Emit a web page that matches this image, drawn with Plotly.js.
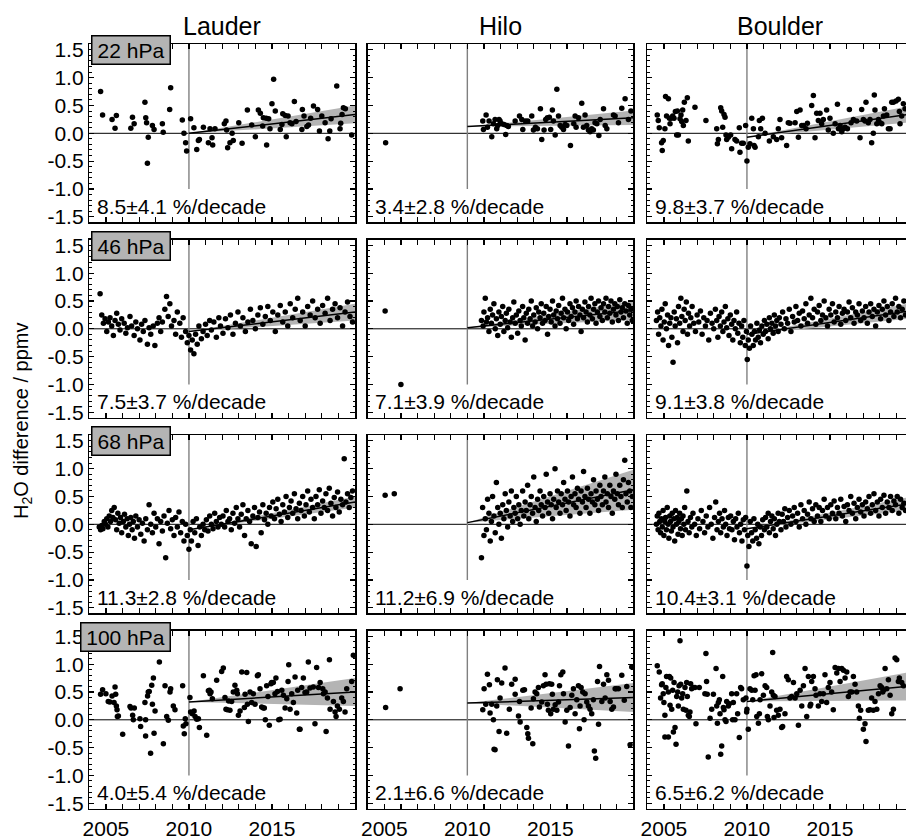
<!DOCTYPE html>
<html><head><meta charset="utf-8">
<script src="https://cdn.plot.ly/plotly-3.0.1.min.js"></script>
<style>html,body{margin:0;padding:0;overflow:hidden;background:#fff}</style>
</head><body><div id="chart"></div>
<script>
const stations = ["Lauder", "Hilo", "Boulder"];
const levels = ["22 hPa", "46 hPa", "68 hPa", "100 hPa"];
const trendLabels = [
  ["8.5±4.1 %/decade", "3.4±2.8 %/decade", "9.8±3.7 %/decade"],
  ["7.5±3.7 %/decade", "7.1±3.9 %/decade", "9.1±3.8 %/decade"],
  ["11.3±2.8 %/decade", "11.2±6.9 %/decade", "10.4±3.1 %/decade"],
  ["4.0±5.4 %/decade", "2.1±6.6 %/decade", "6.5±6.2 %/decade"]
];
const trendStartYear = 2010, trendEndYear = 2020;
const trendStartY = [[0.0, 0.12, -0.07], [-0.05, 0.02, -0.1], [-0.1, 0.03, -0.08], [0.32, 0.30, 0.33]];
const trendEndY = [[0.34, 0.28, 0.35], [0.30, 0.33, 0.33], [0.40, 0.62, 0.38], [0.50, 0.40, 0.61]];
const trendBandHalf = [[0.16, 0.13, 0.15], [0.15, 0.17, 0.14], [0.10, 0.36, 0.12], [0.25, 0.26, 0.26]];
const refLineBottom = -1.0;
const xRange = [2004, 2020], yRange = [-1.6, 1.6];
const xTickVals = [2005, 2010, 2015], xTickText = ["2005", "2010", "2015"];
const yTickVals = [-1.5, -1, -0.5, 0, 0.5, 1, 1.5];
const yTickText = ["-1.5", "-1.0", "-0.5", "0.0", "0.5", "1.0", "1.5"];

const lauder22 = [[2004.68,0.75],[2004.8,0.33],[2005.37,0.25],[2005.55,0.09],[2005.63,0.32],[2006.5,0.09],[2006.6,0.29],[2006.7,0.17],[2007.35,0.56],[2007.4,0.28],[2007.45,0.19],[2007.55,-0.07],[2007.5,-0.54],[2007.8,0.14],[2007.9,0.07],[2008.4,0.17],[2008.45,0.02],[2008.84,0.43],[2008.9,0.82],[2009.6,0.24],[2009.7,0.0],[2009.8,-0.17],[2009.86,-0.32],[2010.1,0.26],[2010.3,0.1],[2010.47,-0.29],[2010.57,-0.13],[2010.63,-0.11],[2010.87,0.11],[2011.17,-0.17],[2011.27,0.08],[2011.39,-0.08],[2011.43,-0.21],[2011.57,0.08],[2012.13,0.17],[2012.23,0.22],[2012.27,0.06],[2012.33,-0.26],[2012.47,-0.17],[2012.6,0.0],[2012.67,-0.13],[2013.0,0.19],[2013.2,-0.18],[2013.52,0.42],[2013.78,0.15],[2014.0,-0.06],[2014.18,0.42],[2014.3,0.36],[2014.44,0.13],[2014.48,0.28],[2014.65,0.27],[2014.68,-0.21],[2014.8,0.26],[2014.88,0.08],[2015.0,0.53],[2015.1,0.97],[2015.2,0.4],[2015.5,0.07],[2015.6,0.16],[2015.65,0.35],[2015.8,0.32],[2015.86,-0.06],[2015.97,0.31],[2016.09,0.19],[2016.2,0.17],[2016.35,0.57],[2016.45,0.21],[2016.8,0.07],[2016.83,0.43],[2016.93,0.31],[2017.1,0.12],[2017.2,0.15],[2017.33,0.27],[2017.5,0.49],[2017.75,0.43],[2017.86,0.04],[2018.0,0.31],[2018.2,0.19],[2018.38,-0.1],[2018.48,0.04],[2018.56,0.26],[2018.9,0.85],[2019.1,0.08],[2019.14,0.18],[2019.22,0.34],[2019.3,0.46],[2019.42,0.44],[2019.8,-0.03]];
const hilo22 = [[2005.08,-0.17],[2010.93,0.22],[2010.97,0.07],[2011.13,0.33],[2011.21,0.11],[2011.31,0.22],[2011.47,-0.06],[2011.57,0.17],[2011.67,0.25],[2011.77,0.08],[2011.83,0.14],[2011.91,0.25],[2011.97,0.22],[2012.07,0.17],[2012.21,0.16],[2012.31,-0.02],[2012.37,0.14],[2012.47,0.12],[2012.88,0.22],[2013.14,0.31],[2013.28,0.25],[2013.34,0.07],[2013.5,0.22],[2013.64,0.22],[2013.88,0.31],[2013.98,0.06],[2014.1,0.11],[2014.22,0.08],[2014.4,0.44],[2014.48,-0.11],[2014.62,0.06],[2014.72,0.25],[2014.82,0.28],[2014.94,0.29],[2015.02,0.07],[2015.12,0.42],[2015.18,0.22],[2015.29,-0.03],[2015.39,0.79],[2015.49,0.31],[2015.59,0.14],[2015.69,0.11],[2015.79,0.07],[2015.89,0.16],[2015.99,0.14],[2016.21,-0.22],[2016.41,0.17],[2016.49,0.31],[2016.55,0.11],[2016.69,0.28],[2016.89,0.54],[2016.99,0.11],[2017.09,0.33],[2017.19,0.14],[2017.29,0.06],[2017.39,0.03],[2017.49,0.08],[2017.59,0.06],[2017.69,0.19],[2017.8,0.17],[2017.92,-0.04],[2018.0,0.25],[2018.2,0.44],[2018.3,0.14],[2018.4,0.08],[2018.8,0.33],[2018.9,0.31],[2019.1,0.19],[2019.3,0.45],[2019.5,0.62],[2019.7,0.25],[2019.85,0.4]];
const boulder22 = [[2004.6,0.33],[2004.66,0.23],[2004.72,0.1],[2004.86,-0.17],[2004.9,-0.31],[2004.96,-0.13],[2005.06,0.08],[2005.1,0.66],[2005.16,0.31],[2005.27,0.62],[2005.33,0.27],[2005.37,0.17],[2005.43,0.27],[2005.53,0.31],[2005.61,0.27],[2005.69,0.39],[2005.77,-0.03],[2005.81,0.4],[2005.87,-0.03],[2005.97,0.26],[2006.03,0.33],[2006.07,0.21],[2006.13,0.42],[2006.17,0.14],[2006.23,0.56],[2006.33,0.23],[2006.41,0.64],[2006.47,-0.14],[2006.87,0.47],[2007.53,0.23],[2008.18,0.08],[2008.22,-0.19],[2008.28,-0.11],[2008.42,0.46],[2008.48,0.4],[2008.54,0.11],[2008.62,0.34],[2008.68,0.29],[2008.74,-0.03],[2008.78,-0.11],[2008.88,-0.07],[2009.02,-0.03],[2009.08,-0.28],[2009.28,-0.11],[2009.38,-0.14],[2009.54,0.1],[2009.58,-0.34],[2009.68,-0.18],[2009.78,-0.18],[2009.92,0.14],[2010.0,-0.5],[2010.08,-0.25],[2010.18,-0.19],[2010.29,0.27],[2010.39,0.08],[2010.43,-0.22],[2010.49,-0.25],[2010.69,-0.06],[2010.75,0.23],[2010.83,0.08],[2010.93,0.27],[2011.09,0.0],[2011.35,-0.14],[2011.59,-0.06],[2011.79,-0.11],[2011.89,0.08],[2011.99,0.25],[2012.09,-0.08],[2012.39,-0.22],[2012.49,0.19],[2012.59,0.18],[2012.9,0.19],[2013.0,0.39],[2013.1,-0.07],[2013.2,0.42],[2013.3,0.14],[2013.4,0.14],[2013.56,0.08],[2013.64,0.18],[2013.9,0.5],[2014.0,0.68],[2014.1,-0.08],[2014.2,0.36],[2014.3,0.23],[2014.4,0.36],[2014.5,0.17],[2014.6,0.25],[2014.8,0.42],[2014.9,0.06],[2015.0,0.27],[2015.2,0.0],[2015.31,0.17],[2015.45,0.52],[2015.51,0.08],[2015.61,0.14],[2015.71,0.03],[2015.81,0.08],[2015.91,0.11],[2016.05,0.08],[2016.17,0.43],[2016.27,0.19],[2016.41,0.25],[2016.61,0.22],[2016.81,-0.08],[2016.91,0.43],[2017.01,0.25],[2017.11,0.22],[2017.17,0.56],[2017.31,0.19],[2017.41,0.25],[2017.51,-0.17],[2017.61,0.0],[2017.67,0.69],[2017.71,0.42],[2017.82,0.17],[2017.92,0.25],[2018.02,0.19],[2018.12,0.17],[2018.22,0.31],[2018.28,0.44],[2018.42,0.33],[2018.52,0.08],[2018.62,0.08],[2018.72,0.56],[2018.82,0.56],[2018.98,0.58],[2019.12,0.61],[2019.18,0.39],[2019.22,0.17],[2019.32,0.31],[2019.42,0.53],[2019.52,0.44]];

const lauder46 = [[2004.65,0.63],[2004.75,0.25],[2004.85,0.1],[2004.95,0.18],[2005.05,-0.05],[2005.15,0.12],[2005.25,0.2],[2005.35,0.05],[2005.45,-0.12],[2005.55,0.15],[2005.65,0.28],[2005.75,0.08],[2005.85,-0.02],[2005.95,0.18],[2006.1,0.1],[2006.2,-0.08],[2006.3,0.02],[2006.45,0.22],[2006.55,0.05],[2006.7,-0.12],[2006.8,0.12],[2006.9,0.0],[2007.05,-0.2],[2007.15,0.08],[2007.25,-0.05],[2007.35,0.15],[2007.5,-0.28],[2007.6,0.02],[2007.7,-0.1],[2007.85,0.05],[2007.95,-0.3],[2008.1,0.1],[2008.2,0.2],[2008.3,-0.05],[2008.4,0.12],[2008.55,0.35],[2008.65,0.58],[2008.75,0.22],[2008.85,0.45],[2008.95,0.05],[2009.1,0.15],[2009.2,-0.1],[2009.3,0.3],[2009.45,0.1],[2009.55,-0.15],[2009.65,0.2],[2009.8,-0.05],[2009.9,-0.25],[2010.0,-0.12],[2010.1,-0.38],[2010.2,-0.2],[2010.3,-0.45],[2010.4,-0.1],[2010.5,-0.28],[2010.6,0.05],[2010.75,-0.18],[2010.85,-0.05],[2011.0,0.08],[2011.1,-0.12],[2011.25,0.15],[2011.35,-0.02],[2011.5,0.12],[2011.65,-0.15],[2011.8,0.2],[2011.9,0.05],[2012.05,-0.08],[2012.2,0.18],[2012.35,0.02],[2012.5,0.25],[2012.65,-0.1],[2012.8,0.1],[2012.95,0.3],[2013.1,0.05],[2013.25,0.2],[2013.4,-0.05],[2013.55,0.12],[2013.7,0.35],[2013.85,0.15],[2014.0,0.0],[2014.15,0.25],[2014.3,0.38],[2014.45,0.08],[2014.6,0.22],[2014.75,0.4],[2014.9,0.15],[2015.05,0.3],[2015.2,-0.05],[2015.35,0.25],[2015.5,0.42],[2015.65,0.12],[2015.8,0.3],[2015.95,0.05],[2016.1,0.45],[2016.25,0.2],[2016.4,0.35],[2016.55,0.55],[2016.7,0.15],[2016.85,0.3],[2017.0,0.05],[2017.15,0.4],[2017.3,0.25],[2017.45,0.5],[2017.6,0.2],[2017.75,0.35],[2017.9,0.1],[2018.05,0.42],[2018.2,0.28],[2018.35,0.55],[2018.5,0.15],[2018.65,0.35],[2018.8,0.45],[2018.95,0.2],[2019.1,0.38],[2019.25,0.05],[2019.4,0.3],[2019.55,0.48],[2019.7,0.22],[2019.85,0.12]];
const hilo46 = [[2005.05,0.32],[2006.0,-1.0],[2010.85,0.15],[2010.95,0.05],[2011.0,0.3],[2011.08,0.55],[2011.15,0.12],[2011.22,0.2],[2011.3,-0.05],[2011.38,0.35],[2011.45,0.1],[2011.52,0.25],[2011.6,0.45],[2011.68,0.0],[2011.75,0.18],[2011.83,-0.12],[2011.9,0.3],[2011.98,0.08],[2012.05,0.22],[2012.13,0.4],[2012.2,-0.05],[2012.28,0.15],[2012.35,0.28],[2012.43,0.02],[2012.5,0.35],[2012.58,0.12],[2012.65,-0.15],[2012.73,0.2],[2012.8,0.48],[2012.88,0.1],[2012.95,0.25],[2013.03,-0.08],[2013.1,0.32],[2013.18,0.15],[2013.25,0.05],[2013.33,0.4],[2013.4,0.2],[2013.48,-0.2],[2013.55,0.28],[2013.63,0.1],[2013.7,0.35],[2013.78,0.18],[2013.85,0.5],[2013.93,0.05],[2014.0,0.25],[2014.08,0.12],[2014.15,0.38],[2014.23,0.0],[2014.3,0.3],[2014.38,0.2],[2014.45,0.45],[2014.53,0.1],[2014.6,0.28],[2014.68,0.15],[2014.75,0.4],[2014.83,-0.1],[2014.9,0.22],[2014.98,0.35],[2015.05,0.12],[2015.13,0.5],[2015.2,0.25],[2015.28,0.05],[2015.35,0.32],[2015.43,0.18],[2015.5,0.42],[2015.58,0.1],[2015.65,0.28],[2015.73,0.55],[2015.8,0.2],[2015.88,0.35],[2015.95,0.0],[2016.03,0.3],[2016.1,0.15],[2016.18,0.45],[2016.25,0.22],[2016.33,0.38],[2016.4,0.08],[2016.48,0.3],[2016.55,0.5],[2016.63,0.18],[2016.7,0.4],[2016.78,0.25],[2016.85,-0.05],[2016.93,0.35],[2017.0,0.2],[2017.08,0.48],[2017.15,0.3],[2017.23,0.12],[2017.3,0.4],[2017.38,0.25],[2017.45,0.55],[2017.53,0.18],[2017.6,0.35],[2017.68,0.45],[2017.75,0.1],[2017.83,0.3],[2017.9,0.5],[2017.98,0.22],[2018.05,0.38],[2018.13,0.15],[2018.2,0.45],[2018.28,0.3],[2018.35,0.55],[2018.43,0.2],[2018.5,0.4],[2018.58,0.28],[2018.65,0.5],[2018.73,0.12],[2018.8,0.35],[2018.88,0.45],[2018.95,0.25],[2019.03,0.4],[2019.1,0.15],[2019.18,0.52],[2019.25,0.3],[2019.33,0.38],[2019.4,0.2],[2019.48,0.45],[2019.55,0.32],[2019.63,0.1],[2019.7,0.42],[2019.78,0.25],[2019.85,0.35],[2019.93,0.15]];
const boulder46 = [[2004.55,0.15],[2004.62,0.3],[2004.68,-0.1],[2004.75,0.2],[2004.82,0.05],[2004.88,0.35],[2004.95,-0.2],[2005.02,0.12],[2005.08,0.45],[2005.15,0.0],[2005.22,0.25],[2005.28,-0.3],[2005.35,0.1],[2005.42,0.2],[2005.48,-0.15],[2005.55,-0.6],[2005.62,0.3],[2005.68,0.05],[2005.75,0.18],[2005.82,-0.25],[2005.88,0.4],[2005.95,0.1],[2006.02,0.55],[2006.08,0.22],[2006.15,-0.05],[2006.22,0.35],[2006.28,0.15],[2006.35,0.48],[2006.42,-0.1],[2006.48,0.28],[2006.55,0.05],[2006.62,0.2],[2006.7,0.4],[2006.8,0.1],[2006.9,-0.05],[2007.0,0.25],[2007.1,0.12],[2007.2,0.32],[2007.3,-0.1],[2007.4,0.2],[2007.5,0.05],[2007.6,0.15],[2007.7,-0.2],[2007.8,0.28],[2007.9,0.1],[2008.0,0.0],[2008.1,0.35],[2008.18,0.15],[2008.25,-0.15],[2008.32,0.22],[2008.4,0.05],[2008.48,0.3],[2008.55,-0.05],[2008.62,0.12],[2008.7,0.4],[2008.78,0.02],[2008.85,0.18],[2008.92,-0.12],[2009.0,0.25],[2009.08,0.08],[2009.15,-0.2],[2009.22,0.15],[2009.3,0.0],[2009.38,0.3],[2009.45,-0.08],[2009.52,0.1],[2009.6,-0.25],[2009.68,0.05],[2009.75,-0.15],[2009.82,0.15],[2009.9,-0.3],[2009.97,-0.05],[2010.02,-0.55],[2010.08,-0.2],[2010.15,-0.35],[2010.22,0.05],[2010.3,-0.1],[2010.38,-0.3],[2010.45,-0.05],[2010.52,-0.2],[2010.6,0.1],[2010.68,-0.15],[2010.75,-0.02],[2010.82,-0.25],[2010.9,0.05],[2010.98,-0.1],[2011.05,0.15],[2011.12,-0.05],[2011.2,0.08],[2011.28,-0.18],[2011.35,0.2],[2011.42,0.0],[2011.5,0.1],[2011.58,-0.08],[2011.65,0.25],[2011.72,0.05],[2011.8,0.15],[2011.88,-0.05],[2011.95,0.2],[2012.05,0.08],[2012.15,0.3],[2012.25,0.0],[2012.35,0.18],[2012.45,0.1],[2012.55,0.35],[2012.65,-0.05],[2012.75,0.22],[2012.85,0.12],[2012.95,0.4],[2013.05,0.15],[2013.15,0.28],[2013.25,0.05],[2013.35,0.32],[2013.45,0.18],[2013.55,0.45],[2013.65,0.1],[2013.75,0.25],[2013.85,0.55],[2013.95,0.2],[2014.05,0.35],[2014.15,0.08],[2014.25,0.3],[2014.35,0.42],[2014.45,0.15],[2014.55,0.25],[2014.65,0.5],[2014.75,0.2],[2014.85,0.05],[2014.95,0.35],[2015.05,0.25],[2015.15,0.45],[2015.25,0.12],[2015.35,0.3],[2015.45,0.2],[2015.55,0.4],[2015.65,0.08],[2015.75,0.28],[2015.85,0.35],[2015.95,0.15],[2016.05,0.3],[2016.15,0.48],[2016.25,0.2],[2016.35,0.38],[2016.45,0.1],[2016.55,0.3],[2016.65,0.25],[2016.75,0.45],[2016.85,0.15],[2016.95,0.32],[2017.05,0.2],[2017.15,0.4],[2017.25,0.1],[2017.35,0.3],[2017.45,0.45],[2017.55,0.22],[2017.65,0.35],[2017.75,0.05],[2017.85,0.3],[2017.95,0.42],[2018.05,0.18],[2018.15,0.35],[2018.25,0.5],[2018.35,0.25],[2018.45,0.4],[2018.55,0.15],[2018.65,0.3],[2018.75,0.45],[2018.85,0.22],[2018.95,0.55],[2019.05,0.3],[2019.15,0.4],[2019.25,0.2],[2019.35,0.35],[2019.45,0.5],[2019.55,0.25]];

const lauder68 = [[2004.6,-0.05],[2004.68,-0.1],[2004.75,-0.02],[2004.82,-0.08],[2004.9,0.05],[2004.98,0.0],[2005.05,0.1],[2005.12,-0.05],[2005.2,0.15],[2005.28,0.05],[2005.35,0.25],[2005.42,0.12],[2005.5,0.3],[2005.58,0.08],[2005.65,-0.1],[2005.72,0.2],[2005.8,0.02],[2005.88,0.12],[2005.95,-0.15],[2006.05,0.05],[2006.12,0.18],[2006.2,-0.05],[2006.28,0.1],[2006.35,-0.2],[2006.42,0.0],[2006.5,0.12],[2006.58,-0.1],[2006.65,0.05],[2006.72,-0.25],[2006.8,0.15],[2006.9,-0.05],[2007.0,0.08],[2007.1,-0.18],[2007.2,0.02],[2007.3,-0.3],[2007.4,0.1],[2007.5,-0.1],[2007.6,0.35],[2007.7,0.0],[2007.8,-0.15],[2007.9,0.2],[2008.0,-0.05],[2008.1,0.1],[2008.2,-0.35],[2008.3,0.05],[2008.4,-0.12],[2008.5,0.15],[2008.6,-0.6],[2008.7,0.02],[2008.8,0.25],[2008.9,-0.08],[2009.0,0.08],[2009.1,-0.2],[2009.2,0.12],[2009.3,-0.05],[2009.4,0.22],[2009.5,-0.15],[2009.6,0.05],[2009.7,-0.3],[2009.8,0.0],[2009.9,-0.2],[2010.0,-0.45],[2010.08,-0.1],[2010.15,-0.3],[2010.25,0.05],[2010.35,-0.15],[2010.45,0.1],[2010.55,-0.38],[2010.65,-0.05],[2010.75,-0.2],[2010.85,0.0],[2010.95,-0.1],[2011.05,0.08],[2011.15,-0.12],[2011.25,0.15],[2011.35,0.0],[2011.45,-0.08],[2011.55,0.2],[2011.65,0.05],[2011.75,-0.05],[2011.85,0.12],[2011.95,0.0],[2012.05,0.15],[2012.15,-0.05],[2012.25,0.25],[2012.35,0.05],[2012.45,0.1],[2012.55,-0.1],[2012.65,0.2],[2012.75,0.02],[2012.85,0.3],[2012.95,0.1],[2013.05,-0.05],[2013.15,0.18],[2013.25,0.35],[2013.35,-0.2],[2013.45,0.1],[2013.55,0.25],[2013.65,0.05],[2013.75,-0.35],[2013.85,0.15],[2013.95,0.3],[2014.05,-0.4],[2014.15,0.12],[2014.25,0.22],[2014.35,-0.15],[2014.45,0.35],[2014.55,0.08],[2014.65,0.2],[2014.75,0.0],[2014.85,0.3],[2014.95,0.15],[2015.05,0.4],[2015.15,0.1],[2015.25,0.28],[2015.35,0.45],[2015.45,0.18],[2015.55,0.05],[2015.65,0.35],[2015.75,0.22],[2015.85,0.5],[2015.95,0.12],[2016.05,0.3],[2016.15,0.42],[2016.25,0.2],[2016.35,0.55],[2016.45,0.28],[2016.55,0.1],[2016.65,0.38],[2016.75,0.25],[2016.85,0.5],[2016.95,0.15],[2017.05,0.35],[2017.15,0.6],[2017.25,0.22],[2017.35,0.45],[2017.45,0.3],[2017.55,0.1],[2017.65,0.5],[2017.75,0.35],[2017.85,0.62],[2017.95,0.2],[2018.05,0.42],[2018.15,0.3],[2018.25,0.55],[2018.35,0.25],[2018.45,0.65],[2018.55,0.38],[2018.65,0.15],[2018.75,0.48],[2018.85,0.3],[2018.95,0.58],[2019.05,0.22],[2019.15,0.45],[2019.25,0.35],[2019.35,1.18],[2019.45,0.4],[2019.55,0.55],[2019.65,0.3],[2019.75,0.48],[2019.85,0.6]];
const hilo68 = [[2005.05,0.52],[2005.6,0.55],[2010.85,-0.6],[2010.92,0.3],[2011.0,-0.2],[2011.08,0.1],[2011.15,-0.1],[2011.22,0.45],[2011.3,0.2],[2011.38,-0.3],[2011.45,0.05],[2011.52,0.5],[2011.6,0.15],[2011.68,-0.15],[2011.75,0.75],[2011.83,0.3],[2011.9,0.0],[2011.98,0.2],[2012.05,-0.25],[2012.13,0.35],[2012.2,0.1],[2012.28,0.55],[2012.35,0.25],[2012.43,-0.05],[2012.5,0.4],[2012.58,0.15],[2012.65,0.6],[2012.73,0.05],[2012.8,0.3],[2012.88,0.2],[2012.95,0.5],[2013.03,0.1],[2013.1,0.35],[2013.18,0.0],[2013.25,0.25],[2013.33,0.6],[2013.4,0.15],[2013.48,0.4],[2013.55,0.25],[2013.63,0.7],[2013.7,0.1],[2013.78,0.35],[2013.85,0.5],[2013.93,0.2],[2014.0,0.85],[2014.08,0.3],[2014.15,0.05],[2014.23,0.45],[2014.3,0.25],[2014.38,0.6],[2014.45,0.35],[2014.53,0.15],[2014.6,0.5],[2014.68,0.3],[2014.75,0.9],[2014.83,0.4],[2014.9,0.2],[2014.98,0.55],[2015.05,0.35],[2015.13,0.1],[2015.2,0.45],[2015.28,1.0],[2015.35,0.3],[2015.43,0.6],[2015.5,0.4],[2015.58,0.2],[2015.65,0.55],[2015.73,0.35],[2015.8,0.75],[2015.88,0.45],[2015.95,0.25],[2016.03,0.6],[2016.1,0.4],[2016.18,0.15],[2016.25,0.5],[2016.33,0.85],[2016.4,0.35],[2016.48,0.55],[2016.55,0.3],[2016.63,0.65],[2016.7,0.45],[2016.78,0.2],[2016.85,0.6],[2016.93,0.4],[2017.0,0.95],[2017.08,0.5],[2017.15,0.3],[2017.23,0.65],[2017.3,0.45],[2017.38,0.2],[2017.45,0.55],[2017.53,0.4],[2017.6,0.8],[2017.68,0.35],[2017.75,0.6],[2017.83,0.45],[2017.9,0.25],[2017.98,0.7],[2018.05,0.5],[2018.13,0.35],[2018.2,0.6],[2018.28,0.85],[2018.35,0.4],[2018.43,0.55],[2018.5,0.3],[2018.58,0.7],[2018.65,0.5],[2018.73,0.2],[2018.8,0.6],[2018.88,0.45],[2018.95,0.9],[2019.03,0.55],[2019.1,0.35],[2019.18,0.7],[2019.25,0.5],[2019.33,0.3],[2019.4,0.8],[2019.48,1.15],[2019.55,0.55],[2019.63,0.4],[2019.7,0.75],[2019.78,0.6],[2019.85,0.3],[2019.93,0.5]];
const boulder68 = [[2004.55,0.0],[2004.6,0.15],[2004.65,-0.1],[2004.7,0.2],[2004.75,0.05],[2004.8,-0.15],[2004.85,0.1],[2004.9,-0.05],[2004.95,0.25],[2005.0,-0.2],[2005.05,0.05],[2005.1,0.12],[2005.15,-0.1],[2005.2,0.3],[2005.25,0.0],[2005.3,-0.25],[2005.35,0.15],[2005.4,0.05],[2005.45,-0.12],[2005.5,0.2],[2005.55,-0.05],[2005.6,0.1],[2005.65,-0.3],[2005.7,0.25],[2005.75,0.0],[2005.8,0.12],[2005.85,-0.18],[2005.9,0.05],[2005.95,0.2],[2006.0,-0.08],[2006.05,0.1],[2006.1,-0.2],[2006.15,0.15],[2006.2,0.0],[2006.25,0.3],[2006.3,-0.1],[2006.38,0.6],[2006.45,0.05],[2006.52,-0.15],[2006.6,0.12],[2006.68,-0.05],[2006.75,0.2],[2006.85,0.0],[2006.95,-0.2],[2007.05,0.1],[2007.15,-0.08],[2007.25,0.25],[2007.35,0.05],[2007.45,-0.15],[2007.55,0.15],[2007.65,-0.05],[2007.75,0.3],[2007.85,0.0],[2007.95,-0.25],[2008.05,0.12],[2008.12,0.4],[2008.2,-0.1],[2008.28,0.05],[2008.35,0.2],[2008.42,-0.15],[2008.5,0.1],[2008.58,-0.05],[2008.65,0.25],[2008.72,0.0],[2008.8,-0.2],[2008.88,0.12],[2008.95,-0.08],[2009.02,0.15],[2009.1,-0.1],[2009.18,0.05],[2009.25,-0.28],[2009.32,0.1],[2009.4,-0.05],[2009.48,0.2],[2009.55,-0.15],[2009.62,0.0],[2009.7,-0.3],[2009.78,0.08],[2009.85,-0.1],[2009.92,0.12],[2010.0,-0.75],[2010.05,-0.2],[2010.12,-0.4],[2010.2,0.05],[2010.28,-0.15],[2010.35,-0.3],[2010.42,0.1],[2010.5,-0.1],[2010.58,-0.25],[2010.65,0.0],[2010.72,-0.35],[2010.8,-0.05],[2010.88,-0.2],[2010.95,0.08],[2011.05,-0.1],[2011.12,0.12],[2011.2,-0.05],[2011.28,0.2],[2011.35,-0.15],[2011.42,0.05],[2011.5,0.15],[2011.58,-0.08],[2011.65,0.1],[2011.72,-0.2],[2011.8,0.0],[2011.88,0.2],[2011.95,0.05],[2012.05,-0.1],[2012.12,0.18],[2012.2,0.05],[2012.28,0.28],[2012.35,-0.05],[2012.45,0.12],[2012.55,0.25],[2012.65,0.0],[2012.75,0.15],[2012.85,0.3],[2012.95,0.05],[2013.05,0.2],[2013.15,-0.05],[2013.25,0.35],[2013.35,0.1],[2013.45,0.25],[2013.55,0.0],[2013.65,0.18],[2013.75,0.4],[2013.85,0.1],[2013.95,0.28],[2014.05,0.05],[2014.15,0.35],[2014.25,0.15],[2014.35,0.3],[2014.45,0.05],[2014.55,0.25],[2014.65,0.45],[2014.75,0.15],[2014.85,0.3],[2014.95,0.1],[2015.05,0.35],[2015.15,0.2],[2015.25,0.42],[2015.35,0.1],[2015.45,0.3],[2015.55,0.2],[2015.65,0.45],[2015.75,0.15],[2015.85,0.32],[2015.95,0.05],[2016.05,0.35],[2016.15,0.25],[2016.25,0.5],[2016.35,0.2],[2016.45,0.38],[2016.55,0.1],[2016.65,0.3],[2016.75,0.45],[2016.85,0.22],[2016.95,0.35],[2017.05,0.15],[2017.15,0.4],[2017.25,0.28],[2017.35,0.5],[2017.45,0.2],[2017.55,0.35],[2017.65,0.55],[2017.75,0.25],[2017.85,0.4],[2017.95,0.15],[2018.05,0.45],[2018.15,0.3],[2018.25,0.52],[2018.35,0.2],[2018.45,0.4],[2018.55,0.3],[2018.65,0.5],[2018.75,0.25],[2018.85,0.42],[2018.95,0.35],[2019.05,0.5],[2019.15,0.2],[2019.25,0.45],[2019.35,0.3],[2019.45,0.38],[2019.55,0.25]];

const lauder100 = [[2004.68,0.46],[2004.8,0.54],[2005.0,0.47],[2005.14,0.33],[2005.24,0.32],[2005.37,0.43],[2005.49,0.31],[2005.55,0.59],[2005.59,0.46],[2005.63,0.25],[2005.67,0.18],[2005.69,0.06],[2005.75,0.07],[2006.01,-0.26],[2006.45,0.24],[2006.51,0.21],[2006.61,0.08],[2006.65,0.0],[2006.71,0.21],[2007.05,0.02],[2007.09,-0.12],[2007.35,0.31],[2007.39,0.0],[2007.39,-0.29],[2007.51,0.43],[2007.55,0.5],[2007.61,0.51],[2007.69,-0.6],[2007.76,0.62],[2007.8,0.28],[2007.86,0.75],[2007.9,-0.24],[2007.96,0.16],[2008.22,1.04],[2008.46,-0.43],[2008.56,0.61],[2008.66,0.06],[2008.76,-0.01],[2008.86,0.5],[2008.9,0.56],[2009.06,0.25],[2009.16,0.18],[2009.62,0.61],[2009.66,-0.11],[2009.72,-0.25],[2009.78,0.02],[2009.82,-0.07],[2010.06,0.4],[2010.1,0.14],[2010.2,0.11],[2010.31,0.16],[2010.37,0.06],[2010.47,0.01],[2010.57,0.02],[2010.63,-0.14],[2010.87,0.79],[2011.07,-0.28],[2011.17,0.52],[2011.23,0.53],[2011.27,0.47],[2011.33,0.5],[2011.41,0.38],[2011.67,0.71],[2011.97,0.87],[2012.07,0.93],[2012.17,0.4],[2012.23,0.19],[2012.31,0.18],[2012.39,0.34],[2012.47,0.17],[2012.57,0.33],[2012.67,0.5],[2012.77,0.62],[2012.88,0.53],[2012.92,0.47],[2012.98,0.08],[2013.08,0.16],[2013.18,0.86],[2013.34,0.22],[2013.38,0.46],[2013.48,0.85],[2013.52,0.28],[2013.58,-0.03],[2013.68,0.5],[2013.78,0.31],[2013.88,0.47],[2013.98,0.28],[2014.12,0.79],[2014.18,0.81],[2014.28,0.56],[2014.38,0.23],[2014.48,0.21],[2014.54,0.21],[2014.6,0.0],[2014.68,0.61],[2014.76,0.42],[2014.84,-0.1],[2014.94,0.65],[2014.98,0.67],[2015.08,0.67],[2015.18,0.47],[2015.24,0.75],[2015.33,0.51],[2015.41,0.0],[2015.49,0.01],[2015.59,0.53],[2015.69,0.44],[2015.79,0.21],[2015.89,0.38],[2015.97,0.69],[2016.01,0.99],[2016.09,0.19],[2016.19,0.47],[2016.29,0.31],[2016.39,0.77],[2016.49,0.12],[2016.55,0.53],[2016.65,-0.17],[2016.69,-0.17],[2016.79,0.58],[2016.89,0.75],[2016.99,0.49],[2017.09,0.5],[2017.19,1.04],[2017.29,0.57],[2017.49,0.59],[2017.59,-0.07],[2017.69,0.94],[2017.8,0.58],[2017.9,0.67],[2018.06,0.56],[2018.1,0.47],[2018.2,0.5],[2018.26,-0.21],[2018.34,0.39],[2018.46,1.08],[2018.5,0.19],[2018.7,0.33],[2018.8,0.14],[2018.86,0.06],[2018.94,0.25],[2019.06,0.19],[2019.2,0.39],[2019.3,0.33],[2019.4,0.14],[2019.5,0.56],[2019.8,0.69],[2019.9,1.16]];
const hilo100 = [[2005.08,0.22],[2005.95,0.56],[2010.93,0.18],[2011.01,0.56],[2011.11,0.28],[2011.21,0.82],[2011.33,0.63],[2011.37,0.12],[2011.47,0.28],[2011.57,0.0],[2011.61,-0.53],[2011.67,-0.54],[2011.77,0.25],[2011.81,0.72],[2011.91,-0.21],[2011.97,0.39],[2012.07,0.66],[2012.27,0.93],[2012.37,-0.24],[2012.53,0.19],[2012.67,0.64],[2012.88,0.73],[2012.88,0.46],[2013.08,0.07],[2013.14,0.33],[2013.18,-0.04],[2013.34,0.53],[2013.44,0.54],[2013.58,-0.14],[2013.64,-0.25],[2013.68,-0.33],[2013.84,0.21],[2013.94,-0.43],[2013.98,0.38],[2014.08,0.5],[2014.18,0.47],[2014.28,0.58],[2014.34,0.23],[2014.48,0.32],[2014.58,0.61],[2014.68,0.81],[2014.74,0.64],[2014.82,0.28],[2014.88,0.17],[2014.94,0.65],[2015.02,0.11],[2015.08,0.64],[2015.12,0.46],[2015.18,0.19],[2015.29,0.27],[2015.39,0.17],[2015.49,0.32],[2015.55,0.61],[2015.63,0.81],[2015.75,0.86],[2015.79,0.47],[2015.89,-0.04],[2015.99,0.17],[2016.09,-0.47],[2016.19,0.22],[2016.29,0.44],[2016.39,0.56],[2016.49,0.11],[2016.59,0.36],[2016.69,0.61],[2016.75,-0.16],[2016.79,0.25],[2016.85,0.58],[2016.95,0.5],[2017.03,0.0],[2017.09,0.47],[2017.19,0.32],[2017.29,0.25],[2017.39,0.19],[2017.49,0.11],[2017.59,0.36],[2017.65,-0.56],[2017.73,-0.69],[2017.84,0.69],[2017.9,-0.08],[2017.96,0.96],[2018.1,0.33],[2018.2,0.64],[2018.3,0.39],[2018.4,0.81],[2018.5,0.71],[2018.6,0.33],[2018.7,0.19],[2018.8,0.23],[2018.9,0.56],[2018.96,0.56],[2019.1,0.56],[2019.3,0.8],[2019.45,0.35],[2019.6,0.6],[2019.8,-0.45],[2019.9,0.95]];
const boulder100 = [[2004.6,0.97],[2004.72,0.86],[2004.8,0.39],[2004.86,0.63],[2004.9,0.65],[2004.96,0.47],[2005.0,0.31],[2005.06,0.08],[2005.06,-0.31],[2005.12,0.58],[2005.16,0.78],[2005.27,0.5],[2005.27,-0.31],[2005.33,0.78],[2005.37,0.26],[2005.41,0.75],[2005.47,0.19],[2005.53,0.53],[2005.57,-0.22],[2005.61,0.67],[2005.67,-0.14],[2005.73,-0.44],[2005.77,0.42],[2005.83,0.5],[2005.87,0.25],[2005.91,0.61],[2005.97,1.42],[2006.01,0.64],[2006.07,0.39],[2006.13,0.47],[2006.17,0.19],[2006.27,0.58],[2006.33,0.17],[2006.37,0.67],[2006.41,0.42],[2006.47,0.08],[2006.53,0.06],[2006.57,0.14],[2006.61,0.65],[2006.67,0.56],[2006.77,0.58],[2006.87,0.58],[2006.93,-0.07],[2007.13,0.58],[2007.47,0.47],[2007.53,1.19],[2007.57,0.69],[2007.61,0.46],[2007.67,-0.67],[2007.78,0.03],[2007.88,0.19],[2007.98,0.46],[2008.14,0.92],[2008.18,0.25],[2008.22,-0.06],[2008.28,0.31],[2008.34,0.36],[2008.38,0.11],[2008.42,-0.62],[2008.48,-0.47],[2008.54,0.78],[2008.58,0.22],[2008.62,0.18],[2008.68,0.0],[2008.74,-0.03],[2008.78,0.33],[2008.88,0.25],[2008.94,0.29],[2009.08,0.47],[2009.14,0.0],[2009.18,0.31],[2009.28,0.0],[2009.38,0.47],[2009.44,0.11],[2009.54,-0.32],[2009.62,0.58],[2009.68,0.56],[2009.78,0.36],[2009.94,0.39],[2009.98,0.14],[2010.0,0.19],[2010.08,-0.17],[2010.18,0.56],[2010.29,0.53],[2010.35,0.36],[2010.43,0.79],[2010.49,0.53],[2010.55,0.81],[2010.59,0.06],[2010.69,-0.06],[2010.75,0.11],[2010.79,0.36],[2010.89,0.83],[2010.99,0.44],[2011.09,0.61],[2011.19,0.58],[2011.23,0.06],[2011.29,0.0],[2011.39,0.25],[2011.49,0.5],[2011.55,1.21],[2011.59,0.44],[2011.63,0.04],[2011.69,0.42],[2011.79,0.17],[2011.89,0.08],[2011.99,0.19],[2012.09,-0.14],[2012.15,-0.12],[2012.29,0.11],[2012.39,0.78],[2012.49,0.72],[2012.59,0.39],[2012.69,0.42],[2012.8,0.67],[2012.9,0.39],[2013.0,0.47],[2013.1,-0.1],[2013.2,0.53],[2013.3,0.25],[2013.4,0.61],[2013.5,0.92],[2013.6,0.06],[2013.7,0.78],[2013.8,0.25],[2013.84,0.28],[2013.9,0.69],[2014.0,0.78],[2014.1,0.56],[2014.16,0.44],[2014.3,0.25],[2014.4,0.47],[2014.5,0.33],[2014.6,0.47],[2014.7,0.81],[2014.8,0.31],[2014.9,0.58],[2015.0,0.67],[2015.1,0.5],[2015.2,0.18],[2015.31,0.94],[2015.41,0.84],[2015.51,0.92],[2015.61,0.69],[2015.71,0.92],[2015.81,0.89],[2015.91,0.75],[2016.01,0.86],[2016.11,0.42],[2016.21,0.5],[2016.31,0.5],[2016.41,0.78],[2016.51,0.64],[2016.61,0.5],[2016.71,0.25],[2016.77,0.03],[2016.85,0.17],[2017.01,-0.17],[2017.11,-0.07],[2017.17,-0.39],[2017.31,0.17],[2017.41,0.18],[2017.51,0.39],[2017.61,0.17],[2017.71,0.33],[2017.82,0.19],[2017.92,0.47],[2018.02,0.61],[2018.12,0.58],[2018.18,0.5],[2018.22,0.53],[2018.32,0.92],[2018.42,0.56],[2018.52,0.72],[2018.62,0.44],[2018.72,0.11],[2018.82,0.19],[2018.92,1.11],[2019.02,1.08],[2019.12,0.69],[2019.18,0.75],[2019.32,0.67],[2019.42,0.61]];

const panelData = [
  [lauder22, hilo22, boulder22],
  [lauder46, hilo46, boulder46],
  [lauder68, hilo68, boulder68],
  [lauder100, hilo100, boulder100]
];

// ---- geometry (pixels) ----
const W = 920, H = 839;
const colLeft = [89.3, 367.7, 647.3], colW = 265.7;
const rowTop = [44.3, 239.8, 435.3, 630.8], rowH = 178;
const FONT = '"Liberation Sans", Arial, Helvetica, sans-serif';
const px2x = p => p / W, px2y = p => 1 - p / H;

const traces = [], shapes = [], annotations = [];
const layout = {
  width: W, height: H, margin: {l: 0, r: 0, t: 0, b: 0},
  paper_bgcolor: '#fff', plot_bgcolor: '#fff', showlegend: false,
  font: {family: FONT, size: 21, color: '#000'}
};

const measure = (() => {
  const c = document.createElement('canvas').getContext('2d');
  c.font = '21px "Liberation Sans"';
  return t => c.measureText(t).width;
})();

for (let r = 0; r < 4; r++) {
  for (let c = 0; c < 3; c++) {
    const k = r * 3 + c + 1;
    const xa = 'x' + (k === 1 ? '' : k), ya = 'y' + (k === 1 ? '' : k);
    const xkey = 'xaxis' + (k === 1 ? '' : k), ykey = 'yaxis' + (k === 1 ? '' : k);
    layout[xkey] = {
      domain: [px2x(colLeft[c]), px2x(colLeft[c] + colW)], anchor: ya,
      range: xRange, showgrid: false, zeroline: false,
      showline: true, linecolor: '#000', linewidth: 1.5, mirror: 'allticks',
      ticks: 'inside', ticklen: 5, tickwidth: 1.2, tickcolor: '#000',
      tickvals: xTickVals, ticktext: xTickText, showticklabels: r === 3,
      tickfont: {size: 21, family: FONT, color: '#000'},
      minor: {dtick: 1, tick0: 2004, ticks: 'inside', ticklen: 5, tickwidth: 1.2, tickcolor: '#000', showgrid: false}
    };
    layout[ykey] = {
      domain: [px2y(rowTop[r] + rowH), px2y(rowTop[r])], anchor: xa,
      range: yRange, showgrid: false, zeroline: false,
      showline: true, linecolor: '#000', linewidth: 1.5, mirror: 'allticks',
      ticks: 'inside', ticklen: 5, tickwidth: 1.2, tickcolor: '#000',
      tickvals: yTickVals, ticktext: yTickText, showticklabels: c === 0,
      tickfont: {size: 21, family: FONT, color: '#000'},
      minor: {dtick: 0.1, tick0: 0, ticks: 'inside', ticklen: 2.5, tickwidth: 1, tickcolor: '#000', showgrid: false}
    };
    const y0 = trendStartY[r][c], y1 = trendEndY[r][c], h = trendBandHalf[r][c];
    traces.push({
      type: 'scatter', mode: 'lines', xaxis: xa, yaxis: ya,
      x: [trendStartYear, trendEndYear, trendEndYear, trendStartYear],
      y: [y0, y1 + h, y1 - h, y0], fill: 'toself',
      fillcolor: 'rgb(180,180,180)', line: {width: 0}, hoverinfo: 'skip'
    });
    traces.push({
      type: 'scatter', mode: 'lines', xaxis: xa, yaxis: ya,
      x: [trendStartYear, trendEndYear], y: [y0, y1],
      line: {color: '#000', width: 1.5}, hoverinfo: 'skip'
    });
    const pts = panelData[r][c];
    traces.push({
      type: 'scatter', mode: 'markers', xaxis: xa, yaxis: ya,
      x: pts.map(p => p[0]), y: pts.map(p => p[1]),
      marker: {color: '#000', size: 5.5, line: {width: 0}}
    });
    shapes.push({type: 'line', layer: 'below', xref: xa + ' domain', x0: 0, x1: 1, yref: ya, y0: 0, y1: 0,
      line: {color: '#000', width: 1}});
    shapes.push({type: 'line', layer: 'below', xref: xa, x0: trendStartYear, x1: trendStartYear,
      yref: ya, y0: refLineBottom, y1: yRange[1], line: {color: 'rgb(128,128,128)', width: 1.4}});
    annotations.push({
      xref: 'paper', yref: 'paper', x: px2x(colLeft[c] + 5.5), y: px2y(rowTop[r] + rowH - 16),
      xanchor: 'left', yanchor: 'middle', showarrow: false, text: trendLabels[r][c],
      font: {size: 21, family: FONT, color: '#000'}
    });
  }
  annotations.push({
    xref: 'paper', yref: 'paper', x: px2x(171), y: px2y(rowTop[r] + 6),
    xanchor: 'right', yanchor: 'middle', showarrow: false, text: levels[r],
    font: {size: 21, family: FONT, color: '#000'},
    bgcolor: 'rgb(180,180,180)', bordercolor: '#000', borderwidth: 1.5, borderpad: 0,
    width: Math.round(measure(levels[r]) + 10), height: 27
  });
}
for (let c = 0; c < 3; c++) {
  annotations.push({
    xref: 'paper', yref: 'paper', x: px2x(colLeft[c] + colW / 2), y: px2y(26),
    xanchor: 'center', yanchor: 'middle', showarrow: false, text: stations[c],
    font: {size: 25, family: FONT, color: '#000'}
  });
}
annotations.push({
  xref: 'paper', yref: 'paper', x: px2x(22), y: px2y(421), xanchor: 'center', yanchor: 'middle',
  showarrow: false, textangle: -90, text: 'H<sub>2</sub>O difference / ppmv',
  font: {size: 20, family: FONT, color: '#000'}
});
layout.shapes = shapes;
layout.annotations = annotations;
Plotly.newPlot('chart', traces, layout, {staticPlot: true, displayModeBar: false});
</script></body></html>
